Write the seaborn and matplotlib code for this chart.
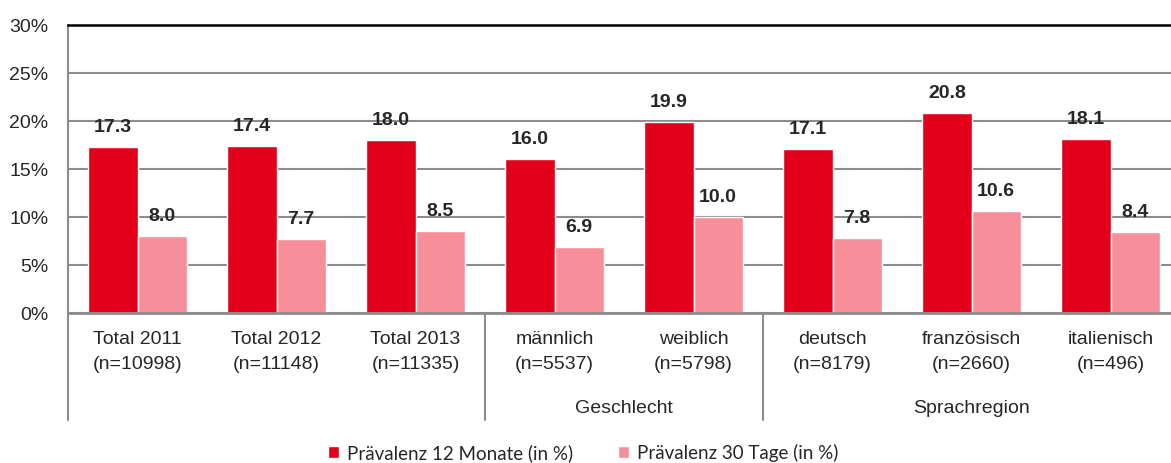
import matplotlib
matplotlib.use("Agg")
import matplotlib.pyplot as plt
import matplotlib.transforms as mtransforms
from matplotlib.patches import Patch
import pandas as pd
import seaborn as sns

# Daten
kategorien = ["Total 2011", "Total 2012", "Total 2013", "männlich", "weiblich",
              "deutsch", "französisch", "italienisch"]
stichprobe = ["n=10998", "n=11148", "n=11335", "n=5537", "n=5798",
              "n=8179", "n=2660", "n=496"]
praev_12m = [17.3, 17.4, 18.0, 16.0, 19.9, 17.1, 20.8, 18.1]
praev_30t = [8.0, 7.7, 8.5, 6.9, 10.0, 7.8, 10.6, 8.4]
serien = ["Prävalenz 12 Monate (in %)", "Prävalenz 30 Tage (in %)"]
gruppen = ["Geschlecht", "Sprachregion"]

rot = "#E2001A"
rosa = "#F78F9B"
grau = "#8c8c8c"

labels = [f"{k}\n({n})" for k, n in zip(kategorien, stichprobe)]
df = pd.DataFrame({
    "kat": labels * 2,
    "wert": praev_12m + praev_30t,
    "serie": [serien[0]] * len(labels) + [serien[1]] * len(labels),
})

sns.set_style("white")
plt.rcParams["font.family"] = ["Liberation Sans Narrow", "Liberation Sans", "DejaVu Sans"]

fig = plt.figure(figsize=(11.71, 4.63), dpi=100)
ax = fig.add_axes([68 / 1171, 150 / 463, 1112 / 1171, 288 / 463])

sns.barplot(data=df, x="kat", y="wert", hue="serie", palette=[rot, rosa],
            saturation=1, width=0.71, edgecolor="white", linewidth=1,
            ax=ax, legend=False)

for c in ax.containers:
    ax.bar_label(c, fmt="%.1f", padding=8, fontsize=14, fontweight="bold")

ax.set_ylim(0, 30)
ax.set_xlim(-0.5, 7.5)
ax.set_yticks(range(0, 31, 5))
ax.set_yticklabels([f"{v}%" for v in range(0, 31, 5)])
ax.set_xlabel("")
ax.set_ylabel("")
ax.yaxis.grid(True, color=grau, lw=1.5)
ax.set_axisbelow(True)
ax.tick_params(axis="y", length=0, pad=14, labelsize=14)
ax.tick_params(axis="x", length=0, pad=13, labelsize=14)
for lbl in ax.get_xticklabels():
    lbl.set_linespacing(1.6)

ax.spines["top"].set_color("black")
ax.spines["top"].set_linewidth(1.8)
ax.spines["left"].set_color(grau)
ax.spines["left"].set_linewidth(1.5)
ax.spines["bottom"].set_color(grau)
ax.spines["bottom"].set_linewidth(2)
ax.spines["right"].set_visible(False)

# Gruppentrenner unter der Achse
trans = mtransforms.blended_transform_factory(ax.transData, ax.transAxes)
for xs in [-0.5, 2.5, 4.5, 7.5]:
    ax.plot([xs, xs], [0, -0.372], color=grau, lw=1.5, transform=trans, clip_on=False)
ax.text(3.5, -0.33, gruppen[0], transform=trans, ha="center", va="center", fontsize=14)
ax.text(6.0, -0.33, gruppen[1], transform=trans, ha="center", va="center", fontsize=14)

handles = [Patch(facecolor=rot, label=serien[0]), Patch(facecolor=rosa, label=serien[1])]
fig.legend(handles=handles, loc="center", bbox_to_anchor=(0.498, 0.022), ncol=2,
           frameon=False, handlelength=0.6, handleheight=0.6, handletextpad=0.4,
           columnspacing=2.4, prop={"family": ["Lato", "DejaVu Sans"], "size": 13.5})

fig.savefig("out.png", dpi=100)
